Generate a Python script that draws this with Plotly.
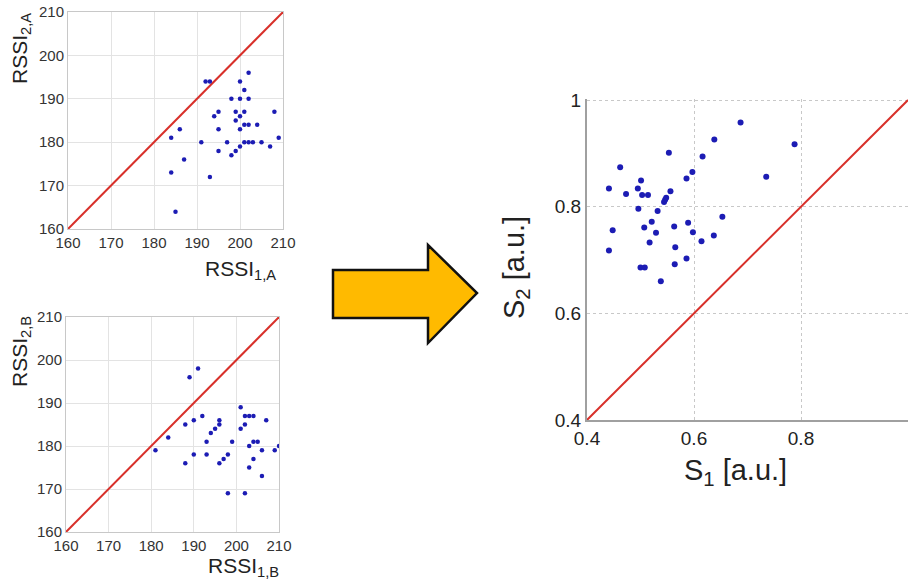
import plotly.graph_objects as go

# ---- data ----
rssi1_a = [202, 192, 193, 200, 201, 198, 200, 202, 195, 194, 199, 201, 208, 200, 199,
           186, 195, 200, 201, 202, 204, 184, 209, 191, 197, 201, 202, 203, 205, 207,
           200, 195, 199, 198, 187, 184, 193, 185]
rssi2_a = [196, 194, 194, 194, 192, 190, 190, 190, 187, 186, 187, 187, 187, 186, 185,
           183, 183, 183, 184, 184, 184, 181, 181, 180, 180, 180, 180, 180, 180, 179,
           179, 178, 178, 177, 176, 173, 172, 164]

rssi1_b = [191, 189, 201, 202, 203, 204, 207, 202, 201, 192, 190, 188, 196, 196, 195,
           194, 184, 193, 199, 204, 205, 181, 203, 210, 209, 206, 190, 193, 198, 197,
           204, 188, 196, 203, 206, 198, 202]
rssi2_b = [198, 196, 189, 187, 187, 187, 186, 185, 184, 187, 186, 185, 186, 185, 184,
           183, 182, 181, 181, 181, 181, 179, 180, 180, 179, 179, 178, 178, 178, 177,
           177, 176, 176, 175, 173, 169, 169]

s1 = [0.687, 0.638, 0.788, 0.553, 0.616, 0.462, 0.597, 0.586, 0.735, 0.501, 0.441, 0.495,
      0.473, 0.503, 0.514, 0.556, 0.548, 0.546, 0.544, 0.496, 0.532, 0.653, 0.448, 0.521,
      0.507, 0.563, 0.589, 0.529, 0.598, 0.637, 0.614, 0.517, 0.565, 0.441, 0.586, 0.564,
      0.500, 0.508, 0.538]
s2 = [0.958, 0.926, 0.917, 0.901, 0.894, 0.874, 0.865, 0.853, 0.856, 0.849, 0.834, 0.834,
      0.824, 0.822, 0.822, 0.829, 0.817, 0.813, 0.809, 0.796, 0.792, 0.781, 0.756, 0.772,
      0.761, 0.763, 0.770, 0.751, 0.752, 0.746, 0.735, 0.733, 0.724, 0.718, 0.703, 0.692,
      0.686, 0.686, 0.660]

rssi_range = [160, 210]
s_range = [0.4, 1.0]

FONT = "Arial, Liberation Sans, sans-serif"
DOT = "#1c1cb4"
RED = "#d8302a"

fig = go.Figure()

# Panel A
fig.add_trace(go.Scatter(x=rssi_range, y=rssi_range, mode="lines",
                         line=dict(color=RED, width=2), xaxis="x", yaxis="y", hoverinfo="skip"))
fig.add_trace(go.Scatter(x=rssi1_a, y=rssi2_a, mode="markers",
                         marker=dict(color=DOT, size=4.5), xaxis="x", yaxis="y"))
# Panel B
fig.add_trace(go.Scatter(x=rssi_range, y=rssi_range, mode="lines",
                         line=dict(color=RED, width=2), xaxis="x2", yaxis="y2", hoverinfo="skip"))
fig.add_trace(go.Scatter(x=rssi1_b, y=rssi2_b, mode="markers",
                         marker=dict(color=DOT, size=4.5), xaxis="x2", yaxis="y2"))
# Panel S
fig.add_trace(go.Scatter(x=s_range, y=s_range, mode="lines",
                         line=dict(color=RED, width=2), xaxis="x3", yaxis="y3", hoverinfo="skip"))
fig.add_trace(go.Scatter(x=s1, y=s2, mode="markers",
                         marker=dict(color=DOT, size=6), xaxis="x3", yaxis="y3"))

W, H = 908, 582


def px(x):
    return x / W


def py(y):
    return 1 - y / H


small_axis = dict(range=rssi_range, dtick=10, showgrid=True, gridcolor="#e3e3e3",
                  showline=True, linecolor="#c8c8c8", linewidth=1, mirror=True,
                  zeroline=False, ticks="", automargin=False,
                  tickfont=dict(size=15, color="#333", family=FONT))
big_axis = dict(dtick=0.2, showgrid=True, gridcolor="#c8c8c8", griddash="dot",
                showline=True, linecolor="#a0a0a0", linewidth=2, mirror=False,
                zeroline=False, ticks="", automargin=False,
                tickfont=dict(size=19, color="#222", family=FONT))

fig.update_layout(
    width=W, height=H, margin=dict(l=0, r=0, t=0, b=0, autoexpand=False),
    paper_bgcolor="white", plot_bgcolor="white", showlegend=False,
    font=dict(family=FONT),
    xaxis=dict(small_axis, domain=[px(68), px(283)], anchor="y"),
    yaxis=dict(small_axis, domain=[py(229), py(12)], anchor="x"),
    xaxis2=dict(small_axis, domain=[px(66), px(279)], anchor="y2"),
    yaxis2=dict(small_axis, domain=[py(532), py(317)], anchor="x2"),
    xaxis3=dict(big_axis, range=s_range, domain=[px(587), 1.0], anchor="y3"),
    yaxis3=dict(big_axis, range=[s_range[0], s_range[1] + 0.002],
                domain=[py(420), py(99)], anchor="x3"),
)

def label(text, x, y, size, angle=0):
    fig.add_annotation(text=text, x=px(x), y=py(y), xref="paper", yref="paper",
                       showarrow=False, textangle=angle, xanchor="center", yanchor="middle",
                       font=dict(size=size, color="#222", family=FONT))

label("RSSI<sub>2,A</sub>", 21, 49, 21, -90)
label("RSSI<sub>1,A</sub>", 240, 270, 21)
label("RSSI<sub>2,B</sub>", 21, 352, 21, -90)
label("RSSI<sub>1,B</sub>", 243, 567, 21)
label("S<sub>2</sub> [a.u.]", 516, 268, 29, -90)
label("S<sub>1</sub> [a.u.]", 735, 472, 29)

# Decorative arrow between the panels
pts = [(333, 270), (428, 270), (428, 245), (477, 293), (428, 343), (428, 318), (333, 318)]
path = "M " + " L ".join(f"{px(a):.5f},{py(b):.5f}" for a, b in pts) + " Z"
fig.add_shape(type="path", path=path, xref="paper", yref="paper",
              fillcolor="#FFBA00", line=dict(color="#111", width=2.5))

fig.write_html("out.html", config={"displayModeBar": False},
               post_script="document.body.style.margin='0';document.body.style.overflow='hidden';")
